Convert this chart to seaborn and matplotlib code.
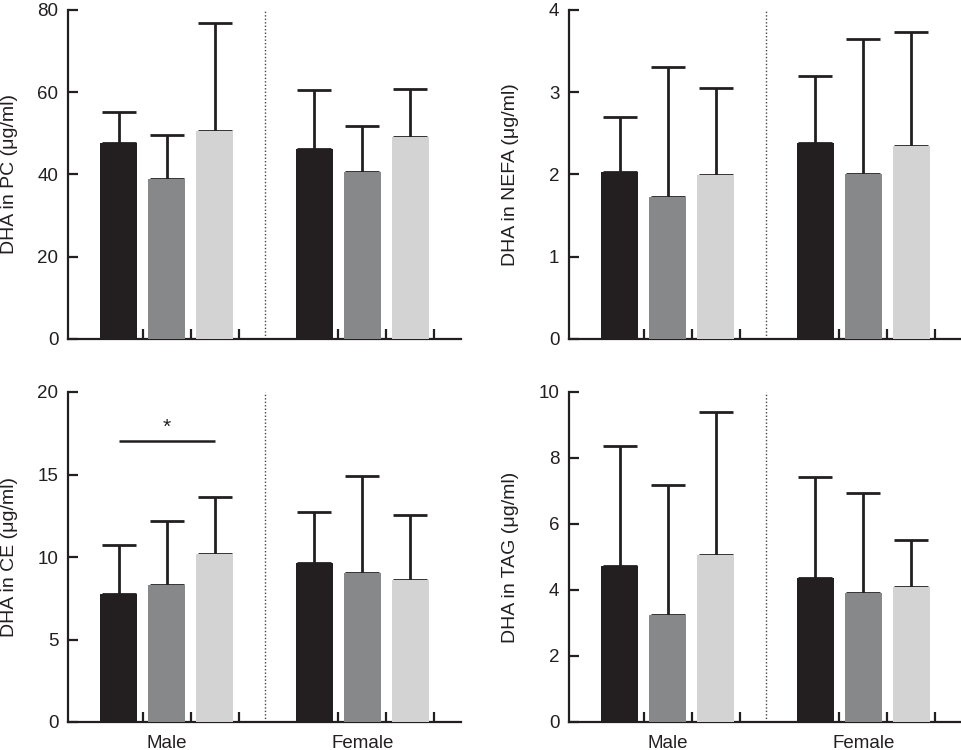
import matplotlib
matplotlib.use("Agg")
import matplotlib.pyplot as plt
import seaborn as sns
import pandas as pd
import numpy as np

# ---------------- data ----------------
sexes = ["Male", "Female"]
groups = ["Group 1", "Group 2", "Group 3"]
colors = ["#231f20", "#87888a", "#d3d3d3"]

pc_mean = {"Male": [47.6, 38.9, 50.5], "Female": [46.2, 40.6, 49.2]}
pc_sd = {"Male": [7.5, 10.8, 26.3], "Female": [14.3, 11.1, 11.7]}

nefa_mean = {"Male": [2.03, 1.73, 1.99], "Female": [2.38, 2.01, 2.35]}
nefa_sd = {"Male": [0.67, 1.58, 1.06], "Female": [0.82, 1.64, 1.38]}

ce_mean = {"Male": [7.74, 8.30, 10.16], "Female": [9.66, 9.05, 8.61]}
ce_sd = {"Male": [2.99, 3.90, 3.50], "Female": [3.09, 5.86, 3.94]}

tag_mean = {"Male": [4.73, 3.25, 5.05], "Female": [4.35, 3.90, 4.09]}
tag_sd = {"Male": [3.63, 3.93, 4.33], "Female": [3.08, 3.05, 1.44]}

ylabels = ["DHA in PC (\u03bcg/ml)", "DHA in NEFA (\u03bcg/ml)",
           "DHA in CE (\u03bcg/ml)", "DHA in TAG (\u03bcg/ml)"]
ylims = [80, 4, 20, 10]
yticks = [[0, 20, 40, 60, 80], [0, 1, 2, 3, 4], [0, 5, 10, 15, 20],
          [0, 2, 4, 6, 8, 10]]
sig_y = 17.05  # significance bar height in CE panel

# ---------------- style ----------------
sns.set_style("ticks")
plt.rcParams["font.family"] = ["Liberation Sans", "DejaVu Sans"]

fig = plt.figure(figsize=(9.62, 7.5), dpi=100)
W, H = 962, 750
axw = 393
rects = [
    (68, 10, 339),   # left px, top px, bottom px
    (569, 10, 339),
    (68, 392, 722),
    (569, 392, 722),
]

datasets = [(pc_mean, pc_sd), (nefa_mean, nefa_sd), (ce_mean, ce_sd), (tag_mean, tag_sd)]

WIDTH = 0.735
GAP = 0.23

for i, ((means, sds), (lx, ty, by)) in enumerate(zip(datasets, rects)):
    ax = fig.add_axes([lx / W, (H - by) / H, axw / W, (by - ty) / H])
    rows = []
    for s in sexes:
        for g, m, sd in zip(groups, means[s], sds[s]):
            rows.append({"sex": s, "group": g, "value": m, "sd": sd})
    df = pd.DataFrame(rows)
    sns.barplot(data=df, x="sex", y="value", hue="group", order=sexes,
                hue_order=groups, palette=colors, saturation=1,
                errorbar=None, width=WIDTH, gap=GAP, linewidth=0,
                legend=False, ax=ax, zorder=3)

    minor_pos = []
    for cont, g in zip(ax.containers, groups):
        xs, hs, es = [], [], []
        for bar, s in zip(cont.patches, sexes):
            xs.append(bar.get_x() + bar.get_width() / 2)
            hs.append(bar.get_height())
            es.append(df[(df.sex == s) & (df.group == g)]["sd"].iloc[0])
            gapw = bar.get_width() / (1 - GAP) * GAP
            minor_pos.append(bar.get_x() + bar.get_width() + gapw / 2)
        ax.errorbar(xs, hs, yerr=[np.zeros(len(es)), es], fmt="none",
                    ecolor="#231f20", elinewidth=2.0, capsize=12,
                    capthick=2.0, zorder=2)

    ax.set_xlim(-0.503, 1.503)
    ax.set_ylim(0, ylims[i])
    ax.set_yticks(yticks[i])
    ax.axvline(0.5, color="#444444", linestyle=(0, (1, 1.5)), linewidth=1.0,
               zorder=1)

    for sp in ["top", "right"]:
        ax.spines[sp].set_visible(False)
    for sp in ["left", "bottom"]:
        ax.spines[sp].set_linewidth(1.6)
        ax.spines[sp].set_color("#231f20")

    ax.tick_params(axis="y", direction="in", length=7, width=1.6,
                   labelsize=13.5, pad=7, colors="#231f20")
    ax.set_xticks([0, 1])
    ax.set_xticks(sorted(minor_pos), minor=True)
    ax.tick_params(axis="x", which="major", length=0, labelsize=13.5,
                   pad=9, colors="#231f20")
    ax.tick_params(axis="x", which="minor", direction="in", length=7,
                   width=1.6, color="#231f20")
    if i < 2:
        ax.set_xticklabels([])
    else:
        ax.set_xticklabels(sexes)
    ax.set_xlabel("")
    ax.set_ylabel(ylabels[i], fontsize=14, color="#231f20")
    ax.yaxis.set_label_coords(-0.128, 0.5)

    if i == 2:
        c0 = ax.containers[0].patches[0]
        c2 = ax.containers[2].patches[0]
        x0 = c0.get_x() + c0.get_width() / 2
        x2 = c2.get_x() + c2.get_width() / 2
        ax.plot([x0, x2], [sig_y, sig_y], color="#231f20", linewidth=1.8,
                solid_capstyle="butt")
        ax.text((x0 + x2) / 2, sig_y + 0.25, "*", ha="center", va="bottom",
                fontsize=15, color="#231f20")

fig.savefig("out.png", dpi=100)
